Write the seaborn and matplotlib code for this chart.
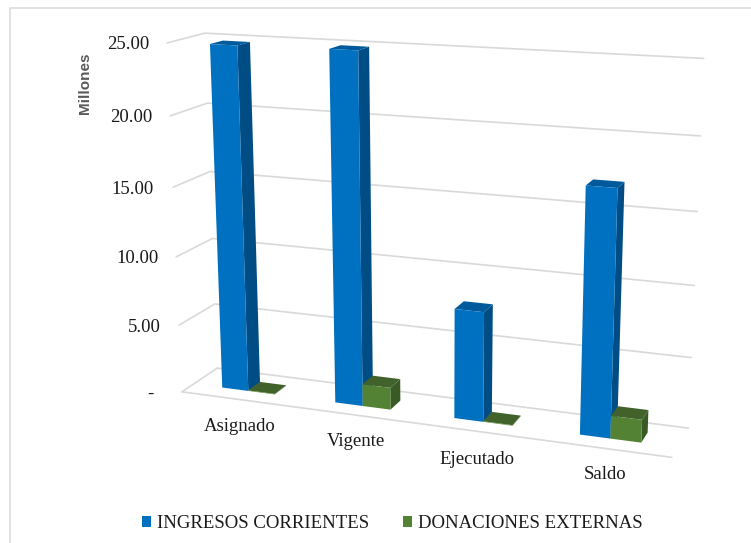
import numpy as np
import pandas as pd
import matplotlib
matplotlib.use("Agg")
import matplotlib.pyplot as plt
import matplotlib.transforms as mtrans
from matplotlib.patches import Polygon
import seaborn as sns

# ---------- data ----------
categories = ["Asignado", "Vigente", "Ejecutado", "Saldo"]
ingresos_corrientes = [24.8, 24.9, 7.8, 17.0]
donaciones_externas = [0.04, 1.6, 0.04, 1.6]
series_names = ["INGRESOS CORRIENTES", "DONACIONES EXTERNAS"]
value_ticks = [0, 5, 10, 15, 20, 25]
value_tick_labels = ["-", "5.00", "10.00", "15.00", "20.00", "25.00"]

# ---------- styles ----------
FRONT = {series_names[0]: "#0070C0", series_names[1]: "#548235"}
SIDE = {series_names[0]: "#004D85", series_names[1]: "#3A5A25"}
TOP = {series_names[0]: "#005A9C", series_names[1]: "#41622B"}
GRID = "#D9D9D9"
TEXT = "#1A1A1A"
SERIF = "Liberation Serif"
Z_FRONT, Z_BACK = 0.33, 0.68
BAR_GROUP = 0.47

# ---------- camera: (x=category axis 0..4, y=value, z=depth 0..1) -> pixels ----------
calib_world = np.array([
    (0, 25, 0), (0, 20, 0), (0, 5, 0), (0, 0, 0),
    (0, 25, 1), (0, 20, 1), (0, 0, 1),
    (4, 25, 1), (4, 20, 1), (4, 15, 1), (4, 5, 1), (4, 0, 1),
    (4, 0, 0)], float)
calib_px = np.array([
    (167, 43), (170, 116), (179, 325), (182, 392),
    (205, 33), (208, 103), (217, 368),
    (704, 58), (700, 136), (697, 212), (692, 358), (688, 428),
    (672, 457)], float)
rows = []
for (X, Y, Z), (u, v) in zip(calib_world, calib_px):
    rows.append([X, Y, Z, 1, 0, 0, 0, 0, -u * X, -u * Y, -u * Z, -u])
    rows.append([0, 0, 0, 0, X, Y, Z, 1, -v * X, -v * Y, -v * Z, -v])
P = np.linalg.svd(np.array(rows))[2][-1].reshape(3, 4)


def project(x, y, z):
    h = P @ np.array([x, y, z, 1.0])
    return h[0] / h[2], h[1] / h[2]


class FaceTransform(mtrans.Transform):
    """Maps seaborn's (category position, value) onto a plane of constant depth."""
    input_dims = output_dims = 2
    is_separable = False

    def __init__(self, z):
        super().__init__()
        self.z = z

    def transform_non_affine(self, values):
        values = np.asarray(values, float)
        return np.array([project(a + 0.5, b, self.z) for a, b in values])


sns.set_theme(style="white")
fig = plt.figure(figsize=(7.51, 5.43), dpi=100)
ax = fig.add_axes([0, 0, 1, 1])

frame = pd.DataFrame({
    "categoria": categories * 2,
    "valor": ingresos_corrientes + donaciones_externas,
    "serie": [series_names[0]] * 4 + [series_names[1]] * 4,
})
sns.barplot(data=frame, x="categoria", y="valor", hue="serie", hue_order=series_names,
            palette=FRONT, order=categories, width=BAR_GROUP, gap=0, saturation=1,
            errorbar=None, legend=True, ax=ax, linewidth=0)
ax.set_xlim(0, 751)
ax.set_ylim(543, 0)
ax.set_axis_off()

# chart border
ax.plot([10, 10, 751], [543, 8, 8], color=GRID, lw=1.1, zorder=1)

# gridlines: back wall, left wall, floor
for v in value_ticks:
    xs, ys = zip(project(0, v, 0), project(0, v, 1), project(4, v, 1))
    ax.plot(xs, ys, color=GRID, lw=1.2, zorder=2, solid_joinstyle="miter")
xs, ys = zip(project(0, 0, 0), project(4, 0, 0))
ax.plot(xs, ys, color=GRID, lw=1.2, zorder=2)

# 3D bars from seaborn's own rectangles
zo = 3.0
front_tf = FaceTransform(Z_FRONT) + ax.transData
for cat_i in range(len(categories)):
    for container, name in zip(ax.containers, series_names):
        rect = container.patches[cat_i]
        x0, x1 = rect.get_x(), rect.get_x() + rect.get_width()
        h = rect.get_height()
        x0w, x1w = x0 + 0.5 - 0.006, x1 + 0.5 - 0.006
        side = [project(x1w, 0, Z_FRONT), project(x1w, 0, Z_BACK),
                project(x1w, h, Z_BACK), project(x1w, h, Z_FRONT)]
        top = [project(x0w, h, Z_FRONT), project(x1w, h, Z_FRONT),
               project(x1w, h, Z_BACK), project(x0w, h, Z_BACK)]
        ax.add_patch(Polygon(side, closed=True, fc=SIDE[name], ec="none", zorder=zo))
        ax.add_patch(Polygon(top, closed=True, fc=TOP[name], ec="none", zorder=zo + 0.1))
        rect.set_x(x0 - 0.006)
        rect.set_transform(front_tf)
        rect.set_zorder(zo + 0.2)
        rect.set_clip_on(False)
        zo += 1

# value labels (the "-" for zero sits further left, as in the original format)
tick_gap = [28, 18, 18, 20, 18, 18]
for v, lab, gap_px in zip(value_ticks, value_tick_labels, tick_gap):
    px, py = project(0, v, 0)
    ax.text(px - gap_px, py + 2, lab, ha="right", va="center", family=SERIF,
            fontsize=13.5, color=TEXT, zorder=20)

# category labels
label_nudge_x = [2, 2, 1, 0]
label_nudge_y = [27, 27, 28, 26]
for i, cat in enumerate(categories):
    px, py = project(i + 0.5, 0, 0)
    ax.text(px + label_nudge_x[i], py + label_nudge_y[i], cat, ha="center", va="center",
            family=SERIF, fontsize=13.5, color=TEXT, zorder=20)

ax.text(85, 83, "Millones", rotation=90, ha="center", va="center",
        family="Liberation Sans", fontweight="bold", fontsize=11, color="#595959", zorder=20)

sns.move_legend(ax, "center", bbox_to_anchor=(0.5226, 0.035), bbox_transform=fig.transFigure,
                ncol=2, frameon=False, title=None, handlelength=0.5, handleheight=0.5,
                handletextpad=0.32, columnspacing=1.79, labelcolor=TEXT,
                prop={"family": SERIF, "size": 13.5})

fig.savefig("out.png", dpi=100, facecolor="white")
